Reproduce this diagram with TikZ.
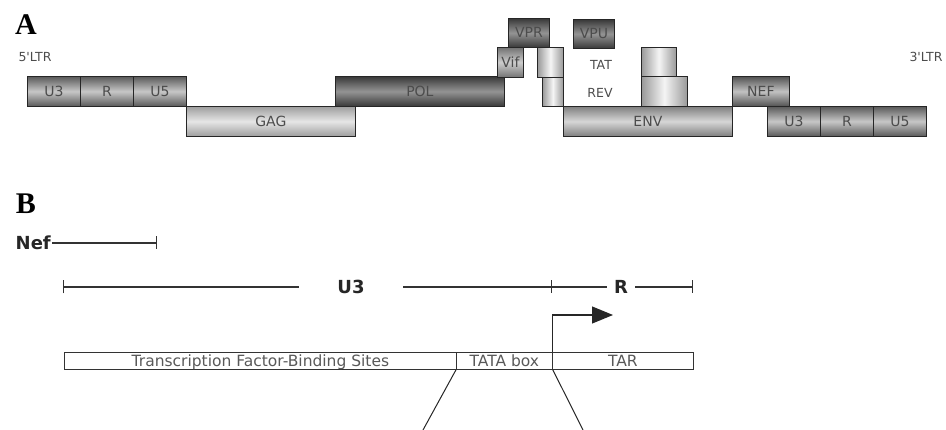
\documentclass[tikz,border=0pt]{standalone}
\usepackage{fontspec}
\setmainfont{Liberation Serif}
\setsansfont{DejaVu Sans}[Ligatures=TeXOff]
\usetikzlibrary{positioning,arrows.meta}

\begin{document}
\begin{tikzpicture}[x=1pt,y=-1pt,
    box/.style={draw=black!85, line width=0.8pt, inner sep=0pt, anchor=north west,
      minimum height=30pt, font=\sffamily\fontsize{14}{14}\selectfont, text=black!70},
    ltrbox/.style={box, minimum width=53pt, top color=black!65, bottom color=black!65, middle color=black!22},
    darkbox/.style={box, top color=black!78, bottom color=black!78, middle color=black!42},
    midbox/.style={box, top color=black!55, bottom color=black!55, middle color=black!20},
    lightbox/.style={box, top color=black!38, bottom color=black!38, middle color=black!10},
    envbox/.style={box, top color=black!50, bottom color=black!50, middle color=black!16},
    nefbox/.style={box, top color=black!68, bottom color=black!68, middle color=black!24},
    exon/.style={box, left color=black!40, right color=black!40, middle color=black!4},
    note/.style={font=\sffamily\fontsize{12.5}{12.5}\selectfont, text=black!70},
    panel/.style={font=\bfseries\fontsize{30}{30}\selectfont},
    seg/.style={draw=black!80, line width=0.8pt, inner sep=0pt, anchor=north west,
      minimum height=17pt, text height=13pt, text depth=2pt,
      font=\sffamily\fontsize{15.5}{15.5}\selectfont, text=black!65},
    bold/.style={font=\sffamily\bfseries\fontsize{18}{18}\selectfont, text=black!85},
    span/.style={line width=1.3pt, draw=black!80},
    endbar/.tip={Bar[width=13pt]}]

    \useasboundingbox (0,0) rectangle (946,430);

    % Panel A
    \node[panel] (pa) at (26,25) {A};
    \node[note] (ltr5) at (35,57) {5'LTR};
    \node[note] (ltr3) at (926,57) {3'LTR};

    % 5' LTR
    \node[ltrbox] (u3a) at (27,76) {U3};
    \node[ltrbox] (ra) at (80,76) {R};
    \node[ltrbox] (u5a) at (133,76) {U5};

    % Genes
    \node[lightbox, minimum width=169pt] (gag) at (186,106) {GAG};
    \node[darkbox, minimum width=169pt] (pol) at (335,76) {POL};
    \node[midbox, minimum width=26pt, minimum height=30pt] (vif) at (497,47) {Vif};
    \node[darkbox, minimum width=41pt, minimum height=29pt] (vpr) at (508,18) {VPR};
    \node[exon, minimum width=26pt, minimum height=30pt] (tat1) at (537,47) {};
    \node[exon, minimum width=21pt, minimum height=29pt] (rev1) at (542,77) {};
    \node[darkbox, minimum width=41pt, minimum height=29pt] (vpu) at (573,19) {VPU};
    \node[note] (tat) at (601,65) {TAT};
    \node[note] (rev) at (600,93) {REV};
    \node[exon, minimum width=35pt, minimum height=29pt] (tat2) at (641,47) {};
    \node[exon, minimum width=46pt, minimum height=30pt] (rev2) at (641,76) {};
    \node[envbox, minimum width=169pt] (env) at (563,106) {ENV};
    \node[nefbox, minimum width=57pt] (nef) at (732,76) {NEF};

    % 3' LTR
    \node[ltrbox] (u3b) at (767,106) {U3};
    \node[ltrbox] (rb) at (820,106) {R};
    \node[ltrbox] (u5b) at (873,106) {U5};

    % Panel B
    \node[panel] (pb) at (26,204) {B};
    \node[bold, anchor=east, inner xsep=1pt] (neflab) at (52,243) {Nef};
    \coordinate (nefend) at (157,243);
    \draw[span, -endbar] (neflab.east) -- (nefend);

    % U3 and R spans
    \coordinate (u3start) at (63,287);
    \coordinate (rstart) at (552,287);
    \coordinate (rend) at (693,287);
    \node[bold, inner xsep=0pt, minimum width=104pt] (u3lab) at (351,287) {U3};
    \node[bold, inner xsep=0pt, minimum width=28pt] (rlab) at (621,287) {R};
    \draw[span, endbar-] (u3start) -- (u3lab.west);
    \draw[span, -endbar] (u3lab.east) -- (rstart);
    \draw[span] (rstart) -- (rlab.west);
    \draw[span, -endbar] (rlab.east) -- (rend);

    % Promoter region
    \node[seg, minimum width=392pt] (tfbs) at (64,352) {Transcription Factor-Binding Sites\hspace{10pt}};
    \node[seg, minimum width=96pt] (tata) at (456,352) {TATA box};
    \node[seg, minimum width=141pt] (tar) at (552,352) {TAR};

    % Transcription start
    \coordinate (tss) at (613,315);
    \draw[line width=1.2pt, black!85, -{Triangle[length=21pt, width=17pt]}] (tata.north east) |- (tss);

    % Zoom lines
    \coordinate (zl) at (423,430);
    \coordinate (zr) at (583,430);
    \draw[line width=1pt, black!85] (tata.south west) -- (zl);
    \draw[line width=1pt, black!85] (tata.south east) -- (zr);
\end{tikzpicture}
\end{document}
